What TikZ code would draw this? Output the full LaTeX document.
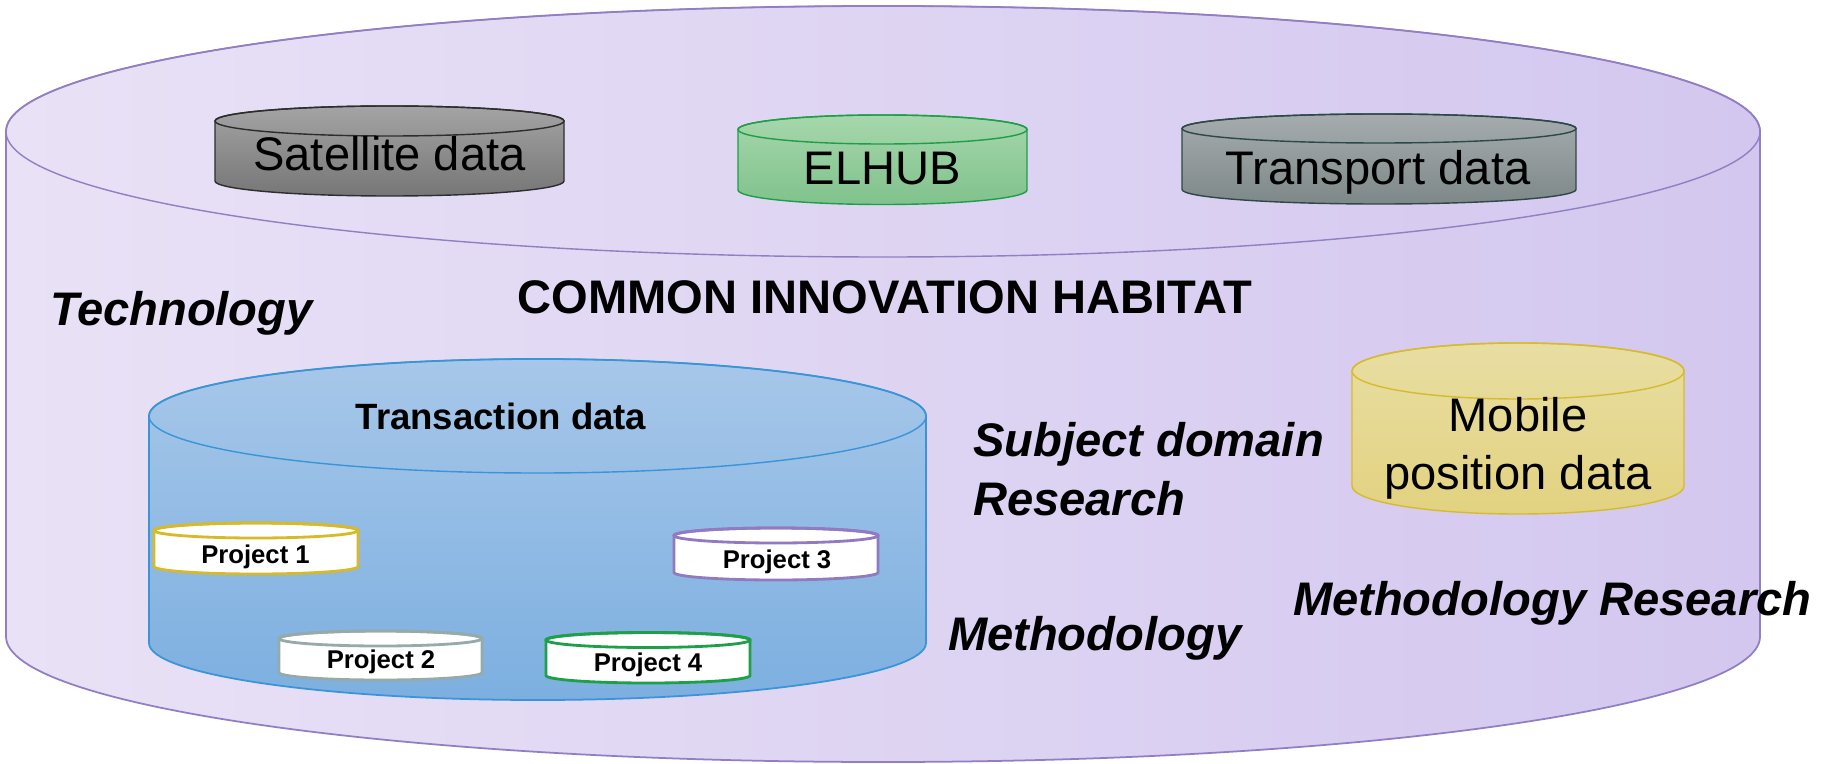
\documentclass[tikz,border=0pt]{standalone}
\usepackage{fontspec}
\setmainfont{Liberation Sans}
\usepackage{tikz}

\definecolor{habLeft}{RGB}{233,226,246}
\definecolor{habRight}{RGB}{211,199,239}
\definecolor{habLine}{RGB}{146,126,194}
\definecolor{satTop}{RGB}{164,164,164}
\definecolor{satBottom}{RGB}{118,118,118}
\definecolor{satLine}{RGB}{45,45,45}
\definecolor{elTop}{RGB}{166,215,172}
\definecolor{elBottom}{RGB}{128,194,140}
\definecolor{elLine}{RGB}{30,158,72}
\definecolor{trTop}{RGB}{166,172,174}
\definecolor{trBottom}{RGB}{126,136,136}
\definecolor{trLine}{RGB}{44,72,72}
\definecolor{mobTop}{RGB}{232,222,162}
\definecolor{mobBottom}{RGB}{226,210,128}
\definecolor{mobLine}{RGB}{214,186,48}
\definecolor{tdTop}{RGB}{167,199,233}
\definecolor{tdBottom}{RGB}{124,175,224}
\definecolor{tdLine}{RGB}{58,148,216}
\definecolor{projA}{RGB}{214,186,40}
\definecolor{projB}{RGB}{150,170,170}
\definecolor{projC}{RGB}{145,122,192}
\definecolor{projD}{RGB}{30,160,72}

% cylinder: centre x, top centre y, x radius, y radius, height, body style, lid style
\newcommand{\drawcyl}[7]{%
  \path[#6] (#1-#3,#2) -- (#1-#3,#2-#5)
    arc[start angle=180, end angle=360, x radius=#3, y radius=#4]
    -- (#1+#3,#2)
    arc[start angle=0, end angle=180, x radius=#3, y radius=#4] -- cycle;
  \path[#7] (#1,#2) ellipse [x radius=#3, y radius=#4];
}

\begin{document}
\begin{tikzpicture}[x=0.01cm, y=0.01cm,
  every node/.style={inner sep=0pt, outer sep=0pt},
  bigtext/.style={font=\fontsize{13.4}{16.3}\selectfont},
  fieldtext/.style={font=\fontsize{13.4}{16.5}\selectfont\bfseries\itshape, anchor=base west, align=left},
  projtext/.style={font=\fontsize{7.3}{9}\selectfont\bfseries, anchor=base},
  habitat/.style={draw=habLine, line width=0.5pt, left color=habLeft, right color=habRight},
  lid/.style={draw=#1, line width=0.4pt},
  project/.style={draw=#1, line width=0.8pt, fill=white}]

  \fill[white] (0,0) rectangle (1825,763);
  \useasboundingbox (0,0) rectangle (1825,763);

  % Draw the common habitat
  \drawcyl{883}{631.5}{877}{125.5}{505}{habitat}{lid=habLine}

  % Draw the data stores on the lid
  \drawcyl{389.5}{642}{174.5}{15}{60}{draw=satLine, line width=0.4pt, top color=satTop, bottom color=satBottom}{lid=satLine}
  \drawcyl{882.5}{633.5}{144.5}{14.5}{60.5}{draw=elLine, line width=0.4pt, top color=elTop, bottom color=elBottom}{lid=elLine}
  \drawcyl{1379}{634.5}{197}{14.5}{61}{draw=trLine, line width=0.4pt, top color=trTop, bottom color=trBottom}{lid=trLine}

  % Label the data stores on the lid
  \node[bigtext, anchor=base] (satellite) at (389.5,592) {Satellite data};
  \node[bigtext, anchor=base] (elhub) at (882.5,578) {ELHUB};
  \node[bigtext, anchor=base] (transport) at (1378,578) {Transport data};

  % Title of the habitat
  \node[bigtext, font=\fontsize{13.4}{16}\selectfont\bfseries, anchor=base] (habitatTitle) at (885,450) {COMMON INNOVATION HABITAT};

  % Mobile position data
  \drawcyl{1518}{392}{166}{28}{115}{draw=mobLine, line width=0.4pt, top color=mobTop, bottom color=mobBottom}{lid=mobLine}
  \node[bigtext, anchor=base, align=center] (mobile) at (1518,274) {Mobile\\position data};

  % Transaction data with the projects inside
  \drawcyl{537.5}{347}{388.5}{57}{227}{draw=tdLine, line width=0.5pt, top color=tdTop, bottom color=tdBottom}{lid=tdLine}
  \node[font=\fontsize{10.4}{12}\selectfont\bfseries, anchor=base] (transaction) at (501,334) {Transaction data};

  \drawcyl{256}{232.5}{102}{7.5}{36}{project=projA}{lid=projA, line width=0.8pt}
  \drawcyl{380.5}{124.5}{101.5}{7.5}{34}{project=projB}{lid=projB, line width=0.8pt}
  \drawcyl{776}{227.5}{102}{7.5}{37}{project=projC}{lid=projC, line width=0.8pt}
  \drawcyl{648}{123}{102}{7.5}{35.5}{project=projD}{lid=projD, line width=0.8pt}

  \node[projtext] (proj1) at (255.5,200) {Project 1};
  \node[projtext] (proj2) at (381,95) {Project 2};
  \node[projtext] (proj3) at (777,195) {Project 3};
  \node[projtext] (proj4) at (648,92) {Project 4};

  % Fields around the stores
  \node[fieldtext] (technology) at (50,438) {Technology};
  \node[fieldtext] (subject) at (973,248) {Subject domain\\Research};
  \node[fieldtext] (methodology) at (948,113) {Methodology};
  \node[fieldtext] (methResearch) at (1293,148) {Methodology Research};
\end{tikzpicture}
\end{document}
